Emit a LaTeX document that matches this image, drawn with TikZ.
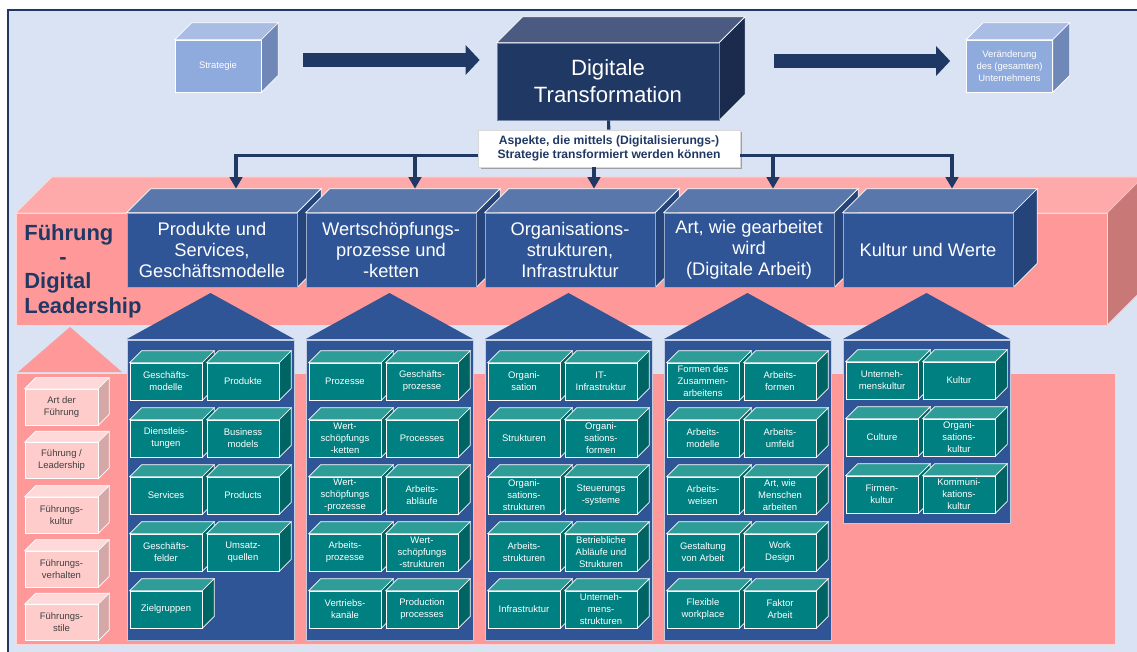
\documentclass[tikz,border=0pt]{standalone}
\usepackage{fontspec}
\setmainfont{Liberation Sans}
\usepackage{tikz}
\usetikzlibrary{calc}
\usetikzlibrary{positioning}
\usetikzlibrary{arrows.meta}
\usetikzlibrary{shadows}

\definecolor{bg}{HTML}{DAE3F3}
\definecolor{navy}{HTML}{203864}
\definecolor{stratfront}{HTML}{8FAADC}
\definecolor{strattop}{HTML}{A9BCE4}
\definecolor{stratside}{HTML}{7088B8}
\definecolor{dtfront}{HTML}{203864}
\definecolor{dttop}{HTML}{4A5A80}
\definecolor{dtside}{HTML}{1A2B4E}
\definecolor{bandfront}{HTML}{FF9999}
\definecolor{bandtop}{HTML}{FFAAAA}
\definecolor{bandside}{HTML}{C97878}
\definecolor{hdfront}{HTML}{2F5597}
\definecolor{hdtop}{HTML}{5A77AB}
\definecolor{hdside}{HTML}{25447A}
\definecolor{tealfront}{HTML}{008080}
\definecolor{tealtop}{HTML}{2E9C97}
\definecolor{tealside}{HTML}{006464}
\definecolor{pinkfront}{HTML}{FFCCCC}
\definecolor{pinktop}{HTML}{FFD9D9}
\definecolor{pinkside}{HTML}{D6A7A7}
\definecolor{pinktext}{HTML}{404040}

\newcommand{\cubefaces}[4]{%
  \filldraw[draw=white, line width=0.4pt, fill=#3] (#1.north west) -- ++(#2,-#2) -- ($(#1.north east)+(#2,-#2)$) -- (#1.north east) -- cycle;
  \filldraw[draw=white, line width=0.4pt, fill=#4] (#1.north east) -- ++(#2,-#2) -- ($(#1.south east)+(#2,-#2)$) -- (#1.south east) -- cycle;
}

\tikzset{
  faces/.style n args={3}{append after command={\pgfextra{\xdef\cubename{\tikzlastnode}\cubefaces{\cubename}{#1}{#2}{#3}}}},
  stratbox/.style={rectangle, draw=white, line width=0.4pt, fill=stratfront, text=white, minimum width=1.72cm, minimum height=1.04cm, inner sep=0pt, align=center, font=\fontsize{5.4}{6.7}\selectfont, faces={17}{strattop}{stratside}},
  dtbox/.style={rectangle, draw=white!40!dtfront, line width=0.4pt, fill=dtfront, text=white, minimum width=4.44cm, minimum height=1.54cm, inner sep=0pt, align=center, font=\fontsize{12.6}{15.3}\selectfont, faces={26}{dttop}{dtside}},
  aspbox/.style={rectangle, draw=gray!30, fill=white, text=navy, minimum width=5.24cm, minimum height=0.74cm, inner sep=0pt, align=center, font=\bfseries\fontsize{6.9}{8}\selectfont, drop shadow={shadow xshift=0.05cm, shadow yshift=-0.04cm, fill=gray!75, opacity=1}},
  headbox/.style={rectangle, draw=white!50!hdfront, line width=0.4pt, fill=hdfront, text=white, minimum width=3.4cm, minimum height=1.48cm, inner sep=0pt, align=center, font=\fontsize{10.4}{12}\selectfont, faces={24}{hdtop}{hdside}},
  tealbox/.style={rectangle, draw=white, line width=0.4pt, fill=tealfront, text=white, minimum width=1.44cm, minimum height=0.74cm, inner sep=0pt, align=center, font=\fontsize{5.4}{6.8}\selectfont, faces={12}{tealtop}{tealside}},
  pinkbox/.style={rectangle, draw=white, line width=0.4pt, fill=pinkfront, text=pinktext, minimum width=1.46cm, minimum height=0.72cm, inner sep=0pt, align=center, font=\fontsize{5.4}{6.8}\selectfont, faces={11}{pinktop}{pinkside}},
  lead/.style={anchor=west, text=navy, align=left, inner sep=0pt, font=\bfseries\fontsize{12.5}{13.9}\selectfont},
  feed/.style={draw=navy, line width=1.8pt},
  bigarrow/.style={draw=navy, line width=8.5pt, -{Triangle[length=8pt,width=16.5pt]}}
}

\begin{document}
\begin{tikzpicture}[x=0.02cm, y=-0.02cm]
\useasboundingbox (0,0) rectangle (1137,652);
\clip (0,0) rectangle (1137,652);
\filldraw[fill=bg, draw=navy, line width=0.8pt] (8,10) rectangle (1160,670);

\filldraw[fill=bandtop, draw=white!60!bandtop] (16,213) -- (52,177) -- (1143,177) -- (1107,213) -- cycle;
\filldraw[fill=bandside, draw=white!60!bandside] (1107,213) -- (1143,177) -- (1143,289) -- (1107,325) -- cycle;
\filldraw[fill=bandfront, draw=white!60!bandfront] (16,213) rectangle (1107,325);
\node[lead] (lead) at (24,271) {Führung\\\hspace*{1.6em}-\\Digital\\Leadership};

\filldraw[fill=bandfront, draw=white!60!bandfront] (16,373) rectangle (1115,644);
\fill[bandfront] (18,372) -- (70,327) -- (122,372) -- cycle;

\fill[hdfront] (127,339) -- (210.5,293) -- (294,339) -- cycle;
\fill[hdfront] (306,339) -- (389.5,293) -- (473,339) -- cycle;
\fill[hdfront] (485,339) -- (568.5,293) -- (652,339) -- cycle;
\fill[hdfront] (664,339) -- (747.5,293) -- (831,339) -- cycle;
\fill[hdfront] (843,339) -- (926.5,293) -- (1010,339) -- cycle;
\filldraw[fill=hdfront, draw=white!70!hdfront] (127,340) rectangle (294,640);
\filldraw[fill=hdfront, draw=white!70!hdfront] (306,340) rectangle (473,640);
\filldraw[fill=hdfront, draw=white!70!hdfront] (485,340) rectangle (652,640);
\filldraw[fill=hdfront, draw=white!70!hdfront] (664,340) rectangle (831,640);
\filldraw[fill=hdfront, draw=white!70!hdfront] (843,340) rectangle (1010,523);

\node[headbox] (h1) at (212,250) {Produkte und\\Services,\\Geschäftsmodelle};
\node[headbox] (h2) at (391,250) {Wertschöpfungs-\\prozesse und\\-ketten};
\node[headbox] (h3) at (570,250) {Organisations-\\strukturen,\\Infrastruktur};
\node[headbox] (h4) at (749,250) {Art, wie gearbeitet\\wird\\(Digitale Arbeit)};
\node[headbox] (h5) at (928,250) {Kultur und Werte};

\node[tealbox] (a1) at (166,381.5) {Geschäfts-\\modelle};
\node[tealbox] (a2) at (243,381.5) {Produkte};
\node[tealbox] (a3) at (166,438.5) {Dienstleis-\\tungen};
\node[tealbox] (a4) at (243,438.5) {Business\\models};
\node[tealbox] (a5) at (166,495.5) {Services};
\node[tealbox] (a6) at (243,495.5) {Products};
\node[tealbox] (a7) at (166,552.5) {Geschäfts-\\felder};
\node[tealbox] (a8) at (243,552.5) {Umsatz-\\quellen};
\node[tealbox] (a9) at (166,609.5) {Zielgruppen};

\node[tealbox] (b1) at (345,381.5) {Prozesse};
\node[tealbox] (b2) at (422,381.5) {Geschäfts-\\prozesse};
\node[tealbox] (b3) at (345,438.5) {Wert-\\schöpfungs\\-ketten};
\node[tealbox] (b4) at (422,438.5) {Processes};
\node[tealbox] (b5) at (345,495.5) {Wert-\\schöpfungs\\-prozesse};
\node[tealbox] (b6) at (422,495.5) {Arbeits-\\abläufe};
\node[tealbox] (b7) at (345,552.5) {Arbeits-\\prozesse};
\node[tealbox] (b8) at (422,552.5) {Wert-\\schöpfungs\\-strukturen};
\node[tealbox] (b9) at (345,609.5) {Vertriebs-\\kanäle};
\node[tealbox] (b10) at (422,609.5) {Production\\processes};

\node[tealbox] (c1) at (524,381.5) {Organi-\\sation};
\node[tealbox] (c2) at (601,381.5) {IT-\\Infrastruktur};
\node[tealbox] (c3) at (524,438.5) {Strukturen};
\node[tealbox] (c4) at (601,438.5) {Organi-\\sations-\\formen};
\node[tealbox] (c5) at (524,495.5) {Organi-\\sations-\\strukturen};
\node[tealbox] (c6) at (601,495.5) {Steuerungs\\-systeme};
\node[tealbox] (c7) at (524,552.5) {Arbeits-\\strukturen};
\node[tealbox] (c8) at (601,552.5) {Betriebliche\\Abläufe und\\Strukturen};
\node[tealbox] (c9) at (524,609.5) {Infrastruktur};
\node[tealbox] (c10) at (601,609.5) {Unterneh-\\mens-\\strukturen};

\node[tealbox] (d1) at (703,381.5) {Formen des\\Zusammen-\\arbeitens};
\node[tealbox] (d2) at (780,381.5) {Arbeits-\\formen};
\node[tealbox] (d3) at (703,438.5) {Arbeits-\\modelle};
\node[tealbox] (d4) at (780,438.5) {Arbeits-\\umfeld};
\node[tealbox] (d5) at (703,495.5) {Arbeits-\\weisen};
\node[tealbox] (d6) at (780,495.5) {Art, wie\\Menschen\\arbeiten};
\node[tealbox] (d7) at (703,552.5) {Gestaltung\\von Arbeit};
\node[tealbox] (d8) at (780,552.5) {Work\\Design};
\node[tealbox] (d9) at (703,609.5) {Flexible\\workplace};
\node[tealbox] (d10) at (780,609.5) {Faktor\\Arbeit};

\node[tealbox] (e1) at (882,380.5) {Unterneh-\\menskultur};
\node[tealbox] (e2) at (959,380.5) {Kultur};
\node[tealbox] (e3) at (882,437.5) {Culture};
\node[tealbox] (e4) at (959,437.5) {Organi-\\sations-\\kultur};
\node[tealbox] (e5) at (882,494.5) {Firmen-\\kultur};
\node[tealbox] (e6) at (959,494.5) {Kommuni-\\kations-\\kultur};

\node[pinkbox] (f1) at (61.5,407) {Art der\\Führung};
\node[pinkbox] (f2) at (61.5,460.5) {Führung /\\Leadership};
\node[pinkbox] (f3) at (61.5,515) {Führungs-\\kultur};
\node[pinkbox] (f4) at (61.5,569) {Führungs-\\verhalten};
\node[pinkbox] (f5) at (61.5,622.5) {Führungs-\\stile};

\node[stratbox] (strat) at (218,66) {Strategie};
\node[dtbox] (dt) at (608,81.5) {Digitale\\Transformation};
\node[stratbox] (change) at (1009.5,66) {Veränderung\\des (gesamten)\\Unternehmens};
\node[aspbox] (asp) at (609,148.5) {Aspekte, die mittels (Digitalisierungs-)\\Strategie transformiert werden können};

\draw[bigarrow] ($(strat.east)+(42,-6)$) -- ($(strat.east -| dt.west)+(-17,-6)$);
\draw[bigarrow] ($(change.west -| dt.east)+(55,-5)$) -- ($(change.west)+(-16,-5)$);

\coordinate (trunk) at ($(asp.south)+(0,-12)$);
\coordinate (t1) at ($(h1.north)+(24,-24)$);
\coordinate (t2) at ($(h2.north)+(24,-24)$);
\coordinate (t3) at ($(h3.north)+(24,-24)$);
\coordinate (t4) at ($(h4.north)+(24,-24)$);
\coordinate (t5) at ($(h5.north)+(24,-24)$);
\draw[feed] (dt) -- (asp);
\draw[feed, -{Triangle[length=6.5pt,width=7pt]}] (asp.west |- trunk) -| (t1);
\draw[feed, -{Triangle[length=6.5pt,width=7pt]}] (t2 |- trunk) -- (t2);
\draw[feed, -{Triangle[length=6.5pt,width=7pt]}] (t3 |- asp.south) -- (t3);
\draw[feed, -{Triangle[length=6.5pt,width=7pt]}] (t4 |- trunk) -- (t4);
\draw[feed, -{Triangle[length=6.5pt,width=7pt]}] (asp.east |- trunk) -| (t5);
\end{tikzpicture}
\end{document}
